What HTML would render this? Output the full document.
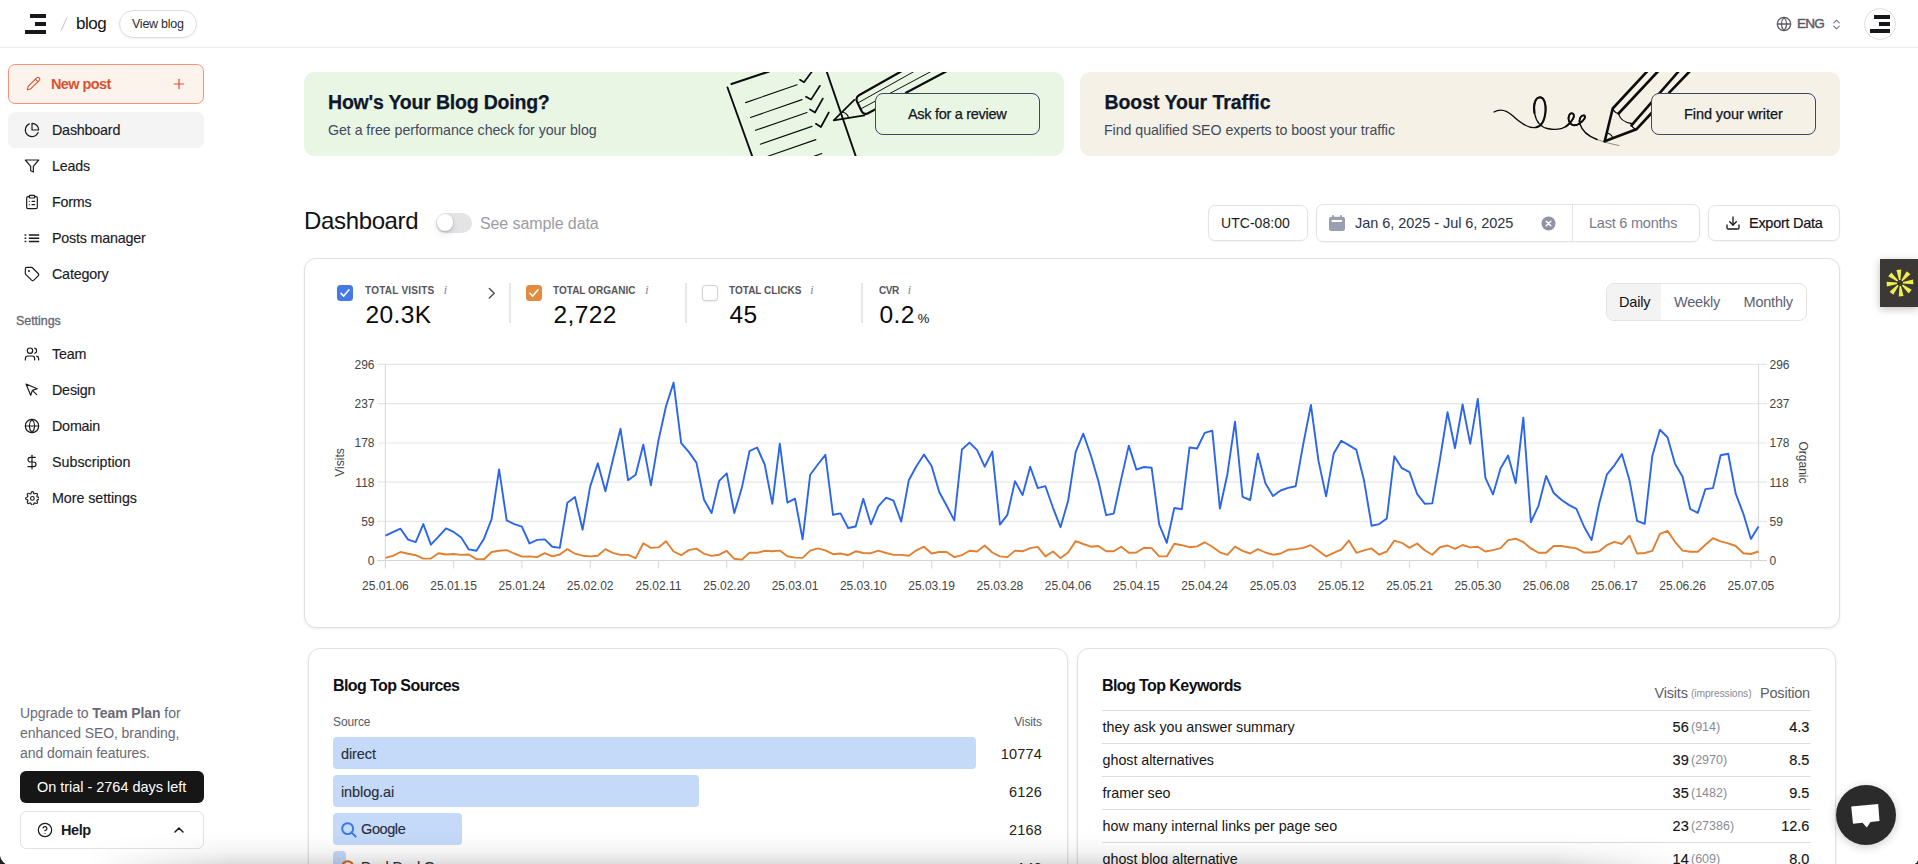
<!DOCTYPE html>
<html lang="en">
<head>
<meta charset="utf-8">
<title>blog – Dashboard</title>
<style>
*{box-sizing:border-box;margin:0;padding:0}
html,body{width:1918px;height:864px;overflow:hidden;background:#fff}
body{font-family:"Liberation Sans",sans-serif;color:#111;position:relative;-webkit-font-smoothing:antialiased}
.abs{position:absolute}
.t{position:absolute;white-space:nowrap;line-height:1}
svg{display:block}
.ic{position:absolute;fill:none;stroke:#1a1a1a;stroke-width:1.75;stroke-linecap:round;stroke-linejoin:round}
/* header */
#topbar{position:absolute;left:0;top:0;width:1918px;height:48px;border-bottom:1px solid #ececee;background:#fff}
.bar{position:absolute;background:#15171a}
#viewblog{position:absolute;left:119px;top:10px;width:78px;height:28px;border:1px solid #dcdce0;border-radius:14px;box-shadow:0 1px 2px rgba(0,0,0,.05)}
/* sidebar */
#newpost{position:absolute;left:8px;top:64px;width:196px;height:40px;border:1px solid #f2937c;border-radius:7px;background:#fcf4ec}
#navsel{position:absolute;left:8px;top:112px;width:196px;height:36px;border-radius:7px;background:#f4f4f4}
.nav{position:absolute;left:52px;font-size:14.3px;color:#1b1b1f;-webkit-text-stroke:.15px #1b1b1f;white-space:nowrap;line-height:18px;letter-spacing:-.2px}
#trial{position:absolute;left:20px;top:771px;width:184px;height:32px;border-radius:6px;background:#161616}
#help{position:absolute;left:20px;top:811px;width:184px;height:38px;border-radius:6px;border:1px solid #e2e2e4;background:#fff}
/* banners */
.banner{position:absolute;top:72px;height:84px;width:760px;border-radius:10px;overflow:hidden}
.bbtn{position:absolute;top:93px;height:42px;width:165px;border:1px solid #3b4763;border-radius:8px}
.bh{position:absolute;font-weight:700;font-size:19.5px;color:#0f1729;-webkit-text-stroke:.25px #0f1729;white-space:nowrap;line-height:24px;letter-spacing:-.2px}
.bs{position:absolute;font-size:14.2px;color:#414a5c;white-space:nowrap;line-height:18px;letter-spacing:-.045px}
/* toolbar */
.box{position:absolute;border:1px solid #e3e3e6;border-radius:7px;background:#fff;box-shadow:0 1px 2px rgba(0,0,0,.04)}
/* cards */
.card{position:absolute;border:1px solid #dfe0e6;background:#fff;box-shadow:0 1px 3px rgba(0,0,0,.08)}
.lbl{position:absolute;font-size:10px;font-weight:700;letter-spacing:.02px;color:#55555d;white-space:nowrap;line-height:12px}
.inf{position:absolute;font-family:"Liberation Serif",serif;font-style:italic;font-size:13.5px;color:#8b8b99;line-height:12px}
.num{position:absolute;font-size:24.5px;color:#0a0a0a;white-space:nowrap;line-height:26px;letter-spacing:.4px;margin-left:.5px}
.vdiv{position:absolute;top:283px;width:1.5px;height:40px;background:#e6e6e8}
.cb{position:absolute;top:285px;width:16px;height:16px;border-radius:3.5px}
.seg{position:absolute;font-size:14.5px;white-space:nowrap;line-height:18px;top:293px;letter-spacing:-.2px}
.srcbar{position:absolute;left:333px;height:32px;border-radius:4px;background:#c5d9f8}
.srct{position:absolute;font-size:14.5px;color:#2a2f3a;-webkit-text-stroke:.15px #2a2f3a;white-space:nowrap;line-height:18px;letter-spacing:-.1px}
.srcv{position:absolute;right:876px;font-size:14.5px;color:#222;white-space:nowrap;line-height:18px;letter-spacing:.2px}
.kw{position:absolute;left:1102.6px;font-size:14.3px;color:#151515;white-space:nowrap;line-height:18px;letter-spacing:-.04px}
.kv{position:absolute;right:229.3px;font-size:14.5px;color:#151515;-webkit-text-stroke:.15px #151515;white-space:nowrap;line-height:18px}
.ki{position:absolute;left:1691px;font-size:12.5px;color:#8a8a94;white-space:nowrap;line-height:18px}
.kp{position:absolute;right:108.6px;font-size:14.5px;color:#151515;-webkit-text-stroke:.15px #151515;white-space:nowrap;line-height:18px}
.kd{position:absolute;left:1102px;width:709px;height:1px;background:#dcdde3}
</style>
</head>
<body>

<!-- ================= TOP BAR ================= -->
<div id="topbar">
  <div class="bar" style="left:30px;top:14px;width:16px;height:4px"></div>
  <div class="bar" style="left:35px;top:22px;width:11px;height:4px"></div>
  <div class="bar" style="left:25px;top:30px;width:21px;height:4px"></div>
  <svg class="abs" style="left:58px;top:14px" width="12" height="20"><line x1="3.2" y1="16.5" x2="9" y2="3.5" stroke="#cfcfd4" stroke-width="1.2"/></svg>
  <div class="t" style="left:76px;top:15px;font-size:17px;color:#131316;letter-spacing:-.5px">blog</div>
  <div id="viewblog"></div>
  <div class="t" style="left:132px;top:18px;font-size:12.5px;color:#2b2b33;letter-spacing:-.25px">View blog</div>

  <svg class="ic" style="left:1776px;top:16px;stroke:#5b5b68;stroke-width:1.9" width="16" height="16" viewBox="0 0 24 24"><circle cx="12" cy="12" r="10"/><path d="M12 2a14.5 14.5 0 0 0 0 20 14.500 14.500 0 0 0 0-20"/><path d="M2 12h20"/></svg>
  <div class="t" style="left:1797px;top:17px;font-size:13.5px;color:#5b5b68;letter-spacing:-.75px;font-weight:500;-webkit-text-stroke:.45px #5b5b68">ENG</div>
  <svg class="ic" style="left:1829.5px;top:17.5px;stroke:#747480;stroke-width:2" width="13" height="13" viewBox="0 0 24 24"><path d="m7 15 5 5 5-5"/><path d="m7 9 5-5 5 5"/></svg>
  <div class="abs" style="left:1864px;top:8px;width:32px;height:32px;border-radius:16px;border:1px solid #dcdee6;background:#fff"></div>
  <div class="bar" style="left:1874px;top:15px;width:16px;height:4px"></div>
  <div class="bar" style="left:1879px;top:22px;width:11px;height:4px"></div>
  <div class="bar" style="left:1870px;top:29px;width:20px;height:4px"></div>
</div>

<!-- ================= SIDEBAR ================= -->
<div id="newpost"></div>
<svg class="ic" style="left:26px;top:76px;stroke:#d9512c;stroke-width:1.7" width="15" height="15" viewBox="0 0 24 24"><path d="M21.174 6.812a1 1 0 0 0-3.986-3.987L3.842 16.174a2 2 0 0 0-.5.830l-1.321 4.352a.5.5 0 0 0 .623.622l4.353-1.320a2 2 0 0 0 .830-.497z"/><path d="m15 5 4 4"/></svg>
<div class="t" style="left:51px;top:76px;font-size:14.5px;font-weight:700;color:#d9512c;letter-spacing:-.6px;line-height:16px">New post</div>
<svg class="ic" style="left:171px;top:76px;stroke:#d9512c;stroke-width:1.8" width="16" height="16" viewBox="0 0 24 24"><path d="M5 12h14"/><path d="M12 5v14"/></svg>

<div id="navsel"></div>
<svg class="ic" style="left:24px;top:122px" width="16" height="16" viewBox="0 0 24 24"><path d="M21.21 15.890A10 10 0 1 1 8 2.830"/><path d="M22 12A10 10 0 0 0 12 2v10z"/></svg>
<div class="nav" style="top:121px">Dashboard</div>
<svg class="ic" style="left:24px;top:158px" width="16" height="16" viewBox="0 0 24 24"><polygon points="22 3 2 3 10 12.460 10 19 14 21 14 12.460 22 3"/></svg>
<div class="nav" style="top:157px">Leads</div>
<svg class="ic" style="left:24px;top:194px" width="16" height="16" viewBox="0 0 24 24"><rect width="8" height="4" x="8" y="2" rx="1" ry="1"/><path d="M16 4h2a2 2 0 0 1 2 2v14a2 2 0 0 1-2 2H6a2 2 0 0 1-2-2V6a2 2 0 0 1 2-2h2"/><path d="M12 11h4"/><path d="M12 16h4"/><path d="M8 11h.01"/><path d="M8 16h.01"/></svg>
<div class="nav" style="top:193px">Forms</div>
<svg class="ic" style="left:24px;top:230px;stroke-width:1.500;stroke-linecap:butt" width="16" height="16" viewBox="24 230 16 16"><path d="M28.800 234.900H39.200M28.800 238.250H39.200M28.800 241.600H39.200"/><path d="M24.600 234.900h1.700M24.600 238.250h1.700M24.600 241.600h1.700"/></svg>
<div class="nav" style="top:229px">Posts manager</div>
<svg class="ic" style="left:24px;top:266px" width="16" height="16" viewBox="0 0 24 24"><path d="M12.586 2.586A2 2 0 0 0 11.172 2H4a2 2 0 0 0-2 2v7.172a2 2 0 0 0 .586 1.414l8.704 8.704a2.426 2.426 0 0 0 3.420 0l6.580-6.580a2.426 2.426 0 0 0 0-3.420z"/><circle cx="7.500" cy="7.500" r=".6" fill="#1a1a1a"/></svg>
<div class="nav" style="top:265px">Category</div>

<div class="t" style="left:16px;top:314.7px;font-size:12.5px;color:#666674;letter-spacing:-.05px;font-weight:500;-webkit-text-stroke:.3px #666674">Settings</div>

<svg class="ic" style="left:24px;top:346px" width="16" height="16" viewBox="0 0 24 24"><path d="M16 21v-2a4 4 0 0 0-4-4H6a4 4 0 0 0-4 4v2"/><circle cx="9" cy="7" r="4"/><path d="M22 21v-2a4 4 0 0 0-3-3.870"/><path d="M16 3.130a4 4 0 0 1 0 7.750"/></svg>
<div class="nav" style="top:345px">Team</div>
<svg class="ic" style="left:24px;top:382px" width="16" height="16" viewBox="0 0 24 24"><path d="m3 3 7.070 16.970 2.510-7.390 7.390-2.510L3 3z"/><path d="m13 13 6 6"/></svg>
<div class="nav" style="top:381px">Design</div>
<svg class="ic" style="left:24px;top:418px" width="16" height="16" viewBox="0 0 24 24"><circle cx="12" cy="12" r="10"/><path d="M12 2a14.500 14.500 0 0 0 0 20 14.500 14.500 0 0 0 0-20"/><path d="M2 12h20"/></svg>
<div class="nav" style="top:417px">Domain</div>
<svg class="ic" style="left:24px;top:454px" width="16" height="16" viewBox="0 0 24 24"><path d="M12 2v20"/><path d="M17 5H9.500a3.500 3.500 0 0 0 0 7h5a3.500 3.500 0 0 1 0 7H6"/></svg>
<div class="nav" style="top:453px;letter-spacing:-.02px">Subscription</div>
<svg class="ic" style="left:24.6px;top:490.6px;stroke-width:1.85" width="14.8" height="14.8" viewBox="0 0 24 24"><circle cx="12" cy="12" r="3"/><path d="M19.4 15a1.650 1.650 0 0 0 .330 1.820l.060.060a2 2 0 0 1 0 2.830 2 2 0 0 1-2.830 0l-.060-.060a1.650 1.650 0 0 0-1.820-.330 1.650 1.650 0 0 0-1 1.510V21a2 2 0 0 1-2 2 2 2 0 0 1-2-2v-.090A1.650 1.650 0 0 0 9 19.400a1.650 1.650 0 0 0-1.820.330l-.060.060a2 2 0 0 1-2.830 0 2 2 0 0 1 0-2.830l.060-.060a1.650 1.650 0 0 0 .330-1.820 1.650 1.650 0 0 0-1.510-1H3a2 2 0 0 1-2-2 2 2 0 0 1 2-2h.090A1.650 1.650 0 0 0 4.600 9a1.650 1.650 0 0 0-.330-1.820l-.060-.060a2 2 0 0 1 0-2.830 2 2 0 0 1 2.830 0l.060.060a1.650 1.650 0 0 0 1.820.330H9a1.650 1.650 0 0 0 1-1.510V3a2 2 0 0 1 2-2 2 2 0 0 1 2 2v.090a1.650 1.650 0 0 0 1 1.510 1.650 1.650 0 0 0 1.820-.330l.060-.060a2 2 0 0 1 2.830 0 2 2 0 0 1 0 2.830l-.060.060a1.650 1.650 0 0 0-.330 1.820V9a1.650 1.650 0 0 0 1.510 1H21a2 2 0 0 1 2 2 2 2 0 0 1-2 2h-.090a1.650 1.650 0 0 0-1.510 1z"/></svg>
<div class="nav" style="top:489px;letter-spacing:-.07px">More settings</div>

<div class="t" style="left:20px;top:703px;font-size:14px;color:#696974;line-height:20px;letter-spacing:-.08px;white-space:normal;width:190px">Upgrade to <b>Team Plan</b> for<br>enhanced SEO, branding,<br>and domain features.</div>
<div id="trial"></div>
<div class="t" style="left:37px;top:779px;font-size:14.5px;color:#fff;letter-spacing:-.03px;line-height:16px">On trial - 2764 days left</div>
<div id="help"></div>
<svg class="ic" style="left:37px;top:822px;stroke-width:1.8" width="16" height="16" viewBox="0 0 24 24"><circle cx="12" cy="12" r="10"/><path d="M9.090 9a3 3 0 0 1 5.830 1c0 2-3 3-3 3"/><path d="M12 17h.01"/></svg>
<div class="t" style="left:61px;top:822px;font-size:14.5px;font-weight:700;color:#1a1a1a;line-height:16px;letter-spacing:-.45px">Help</div>
<svg class="ic" style="left:171px;top:822px;stroke-width:2.2" width="16" height="16" viewBox="0 0 24 24"><path d="m18 15-6-6-6 6"/></svg>

<!-- ================= BANNERS ================= -->
<div class="banner" style="left:304px;background:#eaf6e4">
  <svg class="abs" style="left:0;top:0" width="760" height="84" viewBox="304 72 760 84" fill="none" stroke="#0d0d0d" stroke-linecap="round" stroke-linejoin="round">
    <!-- paper -->
    <path d="M731.500 84 L769 71.500" stroke-width="2.200"/>
    <path d="M727.500 87.500 L752.500 157" stroke-width="1.900"/>
    <path d="M826.500 71 L856 157" stroke-width="1.900"/>
    <g stroke-width="1.150">
      <path d="M745.600 102.600 L797.100 84.800"/>
      <path d="M750.500 117.500 L802 99.600"/>
      <path d="M755.500 130.300 L807 112.500"/>
      <path d="M760.400 144.200 L812 126.400"/>
      <path d="M768 156.200 L815.900 139.600"/>
      <path d="M814 156.400 L821.800 153.500"/>
    </g>
    <g stroke-width="1.750">
      <path d="M800 79.800 L804 82.200 L812 71.500"/>
      <path d="M806 96.700 L811 99.600 L819.900 85.800"/>
      <path d="M810 109.500 L815 112.500 L822.800 98.600"/>
      <path d="M815.900 123.800 L820.900 127 L828.800 112.500"/>
    </g>
    <!-- pencil -->
    <path d="M833.700 120.400 L854.300 99.800 M833.700 120.400 L864.500 115.300" stroke-width="1.700"/>
    <path d="M842.600 112 Q847.500 113.500 848.600 117.800" stroke-width="1.200"/>
    <path d="M901 71.500 L859 95.300 Q855.200 97.600 857 101.500 L861.800 111.500 Q863.800 115.300 868 113.200 L875 109.600" stroke-width="2.200"/>
    <path d="M906 92.700 L946 71.500" stroke-width="2.200"/>
    <path d="M858.500 102.600 L913.500 71.800" stroke-width="1"/>
    <path d="M861.500 108.500 L930.500 71.800" stroke-width="1"/>
  </svg>
</div>
<div class="bh" style="left:328px;top:90px">How's Your Blog Doing?</div>
<div class="bs" style="left:328px;top:121px">Get a free performance check for your blog</div>
<div class="bbtn" style="left:875px;background:#eaf6e4"></div>
<div class="t" style="left:908px;top:106px;font-size:14.5px;color:#10151f;letter-spacing:-.3px;line-height:16px;-webkit-text-stroke:.25px #10151f">Ask for a review</div>

<div class="banner" style="left:1080px;background:#f5f1e6">
  <svg class="abs" style="left:0;top:0" width="760" height="84" viewBox="1080 72 760 84" fill="none" stroke="#0d0d0d" stroke-linecap="round" stroke-linejoin="round">
    <!-- squiggle -->
    <path d="M1494 112 C1500 108.500 1506 109.500 1513 116 C1521 123.500 1528 128.500 1535.500 127.500 C1541 126.800 1544.500 121 1545.500 112 C1546.300 104 1544 97.500 1540 97.300 C1535.500 97.500 1533 104 1534.500 113 C1536 121.500 1541 127.500 1548.500 128.800 C1555.500 130 1562.500 129.500 1568 125 C1573 121 1575.500 115.500 1573 113.700 C1570 112 1567.500 116.500 1569 121 C1570.500 125.500 1575 126.500 1579.500 123.500 C1584 120.500 1586.500 116.500 1584 115.500 C1581 114.800 1578.500 119 1580 124 C1582 131 1589 136.500 1597 139.500" stroke-width="1.400"/>
    <path d="M1597 139.500 C1604 142 1611 144 1619 145.500" stroke-width=".6" opacity=".75"/>
    <path d="M1566 126.500 C1572 122 1575.500 115.500 1573 113.700 C1570 112 1567.500 116.500 1569 121 C1570.500 125.500 1575 126.500 1579.500 123.500 C1584 120.500 1586.500 116.500 1584 115.500 C1581 114.800 1578.500 119 1580 124" stroke-width="1.900"/>
    <path d="M1536.500 127.300 C1541 126.300 1544.500 121 1545.500 112 C1546.300 104 1544 97.500 1540 97.300 C1535.500 97.500 1533 104 1534.500 113" stroke-width="2.100"/>
    <!-- pencil -->
    <path d="M1604.700 141.200 L1612.700 108.500 L1647 71.500" stroke-width="2.600"/>
    <path d="M1604.700 141.200 L1636.400 129.300 L1652 112.500" stroke-width="2.600"/>
    <path d="M1669 92.800 L1689.500 71.500" stroke-width="2.600"/>
    <path d="M1618.600 113.500 L1657.800 71.500" stroke-width="2.600"/>
    <path d="M1631.500 125.400 L1678.500 71.500" stroke-width="2.600"/>
    <path d="M1612.700 108.500 Q1614.500 113 1618.600 113.500 Q1620 121.500 1631.500 123.500 Q1631.500 128 1636.400 129.300" stroke-width="1.300"/>
    <path d="M1607.200 133 Q1611.800 134 1612.700 138.200" stroke-width="1.200"/>
  </svg>
</div>
<div class="bh" style="left:1104.5px;top:90px;letter-spacing:-.07px">Boost Your Traffic</div>
<div class="bs" style="left:1104px;top:121px">Find qualified SEO experts to boost your traffic</div>
<div class="bbtn" style="left:1651px;background:#f5f1e6"></div>
<div class="t" style="left:1684px;top:106px;font-size:14.5px;color:#10151f;letter-spacing:-.08px;line-height:16px;-webkit-text-stroke:.25px #10151f">Find your writer</div>

<!-- ================= HEADING / TOOLBAR ================= -->
<div class="t" style="left:304px;top:208px;font-size:24px;color:#111114;letter-spacing:-.35px;line-height:26px">Dashboard</div>
<div class="abs" style="left:435.5px;top:213px;width:36px;height:19.5px;border-radius:10px;background:#e4e4e7"></div>
<div class="abs" style="left:436.8px;top:214.4px;width:16.600px;height:16.600px;border-radius:8.300px;background:#fff;box-shadow:0 1px 3px rgba(0,0,0,.22),0 5px 10px rgba(0,0,0,.07)"></div>
<div class="t" style="left:480px;top:215px;font-size:16px;color:#9b9ba6;letter-spacing:-.1px;line-height:18px">See sample data</div>

<div class="box" style="left:1208px;top:205px;width:100px;height:36px"></div>
<div class="t" style="left:1221px;top:215px;font-size:14px;color:#1b1b22;letter-spacing:.04px;line-height:16px">UTC-08:00</div>

<div class="box" style="left:1316px;top:204px;width:384px;height:38px"></div>
<div class="abs" style="left:1572px;top:205px;width:1px;height:36px;background:#e3e3e6"></div>
<svg class="abs" style="left:1328px;top:214px" width="18" height="18" viewBox="1328 214 18 18"><rect x="1329" y="216.800" width="16" height="14.200" rx="2.200" fill="#9aa0b1"/><rect x="1332.200" y="215.100" width="1.700" height="3" fill="#9aa0b1"/><rect x="1340.200" y="215.100" width="1.700" height="3" fill="#9aa0b1"/><rect x="1331.700" y="220" width="10.400" height="2.100" rx=".4" fill="#fff"/></svg>
<div class="t" style="left:1355px;top:215px;font-size:14.500px;color:#2a3249;letter-spacing:-.05px;line-height:16px">Jan 6, 2025 - Jul 6, 2025</div>
<svg class="abs" style="left:1541px;top:216px" width="15" height="15" viewBox="0 0 15 15"><circle cx="7.500" cy="7.500" r="7" fill="#8f93a3"/><path d="M5.200 5.200l4.600 4.600M9.800 5.200l-4.600 4.600" stroke="#fff" stroke-width="1.500" stroke-linecap="round"/></svg>
<div class="t" style="left:1589px;top:215px;font-size:14.500px;color:#777a8a;letter-spacing:-.22px;line-height:16px">Last 6 months</div>

<div class="box" style="left:1708px;top:205px;width:132px;height:36px"></div>
<svg class="ic" style="left:1725px;top:215px;stroke-width:2" width="16" height="16" viewBox="0 0 24 24"><path d="M21 15v4a2 2 0 0 1-2 2H5a2 2 0 0 1-2-2v-4"/><path d="m7 10 5 5 5-5"/><path d="M12 15V3"/></svg>
<div class="t" style="left:1749px;top:215px;font-size:14.500px;color:#15151a;letter-spacing:-.28px;line-height:16px;-webkit-text-stroke:.2px #15151a">Export Data</div>

<!-- ================= CHART CARD ================= -->
<div class="card" style="left:304px;top:258px;width:1536px;height:370px;border-radius:12px"></div>
<div class="cb" style="left:337px;background:#4479e8"></div>
<svg class="abs" style="left:337px;top:285px" width="16" height="16" viewBox="0 0 16 16" fill="none" stroke="#fff" stroke-width="1.600" stroke-linecap="round" stroke-linejoin="round"><path d="M4 8.400l2.700 2.700L12 4.800"/></svg>
<div class="lbl" style="left:365px;top:285px;letter-spacing:.23px">TOTAL VISITS</div><div class="inf" style="left:443.5px;top:284px">i</div>
<div class="num" style="left:365px;top:302px">20.3K</div>
<svg class="ic" style="left:487px;top:286px;stroke:#4a4a4a;stroke-width:1.350" width="10" height="14" viewBox="0 0 10 14"><path d="M2.300 2.400l5 4.800-5 4.800"/></svg>
<div class="vdiv" style="left:509px"></div>
<div class="cb" style="left:526px;background:#e28a40"></div>
<svg class="abs" style="left:526px;top:285px" width="16" height="16" viewBox="0 0 16 16" fill="none" stroke="#fff" stroke-width="1.600" stroke-linecap="round" stroke-linejoin="round"><path d="M4 8.400l2.700 2.700L12 4.800"/></svg>
<div class="lbl" style="left:553px;top:285px">TOTAL ORGANIC</div><div class="inf" style="left:645px;top:284px">i</div>
<div class="num" style="left:553px;top:302px">2,722</div>
<div class="vdiv" style="left:685px"></div>
<div class="cb" style="left:702px;background:#fff;border:1px solid #cfcfd4;box-shadow:0 1px 2px rgba(0,0,0,.08)"></div>
<div class="lbl" style="left:729px;top:285px">TOTAL CLICKS</div><div class="inf" style="left:810px;top:284px">i</div>
<div class="num" style="left:729px;top:302px">45</div>
<div class="vdiv" style="left:861px"></div>
<div class="lbl" style="left:879px;top:285px;letter-spacing:-.5px">CVR</div><div class="inf" style="left:907.5px;top:284px">i</div>
<div class="num" style="left:879px;top:302px">0.2<span style="font-size:13px;margin-left:3px">%</span></div>
<div class="box" style="left:1606px;top:283px;width:201px;height:38px;border-radius:8px;box-shadow:none"></div>
<div class="abs" style="left:1607px;top:284px;width:54px;height:36px;border-radius:7px 0 0 7px;background:#f3f3f4"></div>
<div class="seg" style="left:1619px;color:#111">Daily</div>
<div class="seg" style="left:1674px;color:#5a6175">Weekly</div>
<div class="seg" style="left:1743.5px;color:#5a6175">Monthly</div>
<svg class="abs" style="left:304px;top:340px" width="1536" height="270" viewBox="304 340 1536 270" font-family="'Liberation Sans', sans-serif" font-size="12">
<path d="M377.4 364.4H1767" stroke="#e7e7e7" stroke-width="1.200"/>
<path d="M377.4 403.7H1767" stroke="#e7e7e7" stroke-width="1.200"/>
<path d="M377.4 443.0H1767" stroke="#e7e7e7" stroke-width="1.200"/>
<path d="M377.4 482.2H1767" stroke="#e7e7e7" stroke-width="1.200"/>
<path d="M377.4 521.3H1767" stroke="#e7e7e7" stroke-width="1.200"/>
<path d="M377.4 560.5H1767" stroke="#e7e7e7" stroke-width="1.200"/>
<path d="M385.400 364.400V560.500M1758.500 364.400V560.500" stroke="#dcdcdc" stroke-width="1.200"/>
<path d="M377.400 560.500H1767" stroke="#d4d4d4" stroke-width="1.200"/>
<path d="M385.4 560.5v8M453.6 560.5v8M521.9 560.5v8M590.2 560.5v8M658.5 560.5v8M726.7 560.5v8M795.0 560.5v8M863.3 560.5v8M931.6 560.5v8M999.9 560.5v8M1068.1 560.5v8M1136.4 560.5v8M1204.7 560.5v8M1273.0 560.5v8M1341.2 560.5v8M1409.5 560.5v8M1477.8 560.5v8M1546.1 560.5v8M1614.4 560.5v8M1682.6 560.5v8M1750.9 560.5v8" stroke="#dcdcdc" stroke-width="1.200"/>
<text x="374.500" y="368.7" text-anchor="end" fill="#444">296</text>
<text x="1769.500" y="368.7" fill="#444">296</text>
<text x="374.500" y="408.0" text-anchor="end" fill="#444">237</text>
<text x="1769.500" y="408.0" fill="#444">237</text>
<text x="374.500" y="447.3" text-anchor="end" fill="#444">178</text>
<text x="1769.500" y="447.3" fill="#444">178</text>
<text x="374.500" y="486.5" text-anchor="end" fill="#444">118</text>
<text x="1769.500" y="486.5" fill="#444">118</text>
<text x="374.500" y="525.6" text-anchor="end" fill="#444">59</text>
<text x="1769.500" y="525.6" fill="#444">59</text>
<text x="374.500" y="564.8" text-anchor="end" fill="#444">0</text>
<text x="1769.500" y="564.8" fill="#444">0</text>
<text x="385.4" y="590.300" text-anchor="middle" fill="#444">25.01.06</text>
<text x="453.6" y="590.300" text-anchor="middle" fill="#444">25.01.15</text>
<text x="521.9" y="590.300" text-anchor="middle" fill="#444">25.01.24</text>
<text x="590.2" y="590.300" text-anchor="middle" fill="#444">25.02.02</text>
<text x="658.5" y="590.300" text-anchor="middle" fill="#444">25.02.11</text>
<text x="726.7" y="590.300" text-anchor="middle" fill="#444">25.02.20</text>
<text x="795.0" y="590.300" text-anchor="middle" fill="#444">25.03.01</text>
<text x="863.3" y="590.300" text-anchor="middle" fill="#444">25.03.10</text>
<text x="931.6" y="590.300" text-anchor="middle" fill="#444">25.03.19</text>
<text x="999.9" y="590.300" text-anchor="middle" fill="#444">25.03.28</text>
<text x="1068.1" y="590.300" text-anchor="middle" fill="#444">25.04.06</text>
<text x="1136.4" y="590.300" text-anchor="middle" fill="#444">25.04.15</text>
<text x="1204.7" y="590.300" text-anchor="middle" fill="#444">25.04.24</text>
<text x="1273.0" y="590.300" text-anchor="middle" fill="#444">25.05.03</text>
<text x="1341.2" y="590.300" text-anchor="middle" fill="#444">25.05.12</text>
<text x="1409.5" y="590.300" text-anchor="middle" fill="#444">25.05.21</text>
<text x="1477.8" y="590.300" text-anchor="middle" fill="#444">25.05.30</text>
<text x="1546.1" y="590.300" text-anchor="middle" fill="#444">25.06.08</text>
<text x="1614.4" y="590.300" text-anchor="middle" fill="#444">25.06.17</text>
<text x="1682.6" y="590.300" text-anchor="middle" fill="#444">25.06.26</text>
<text x="1750.9" y="590.300" text-anchor="middle" fill="#444">25.07.05</text>
<text transform="translate(343.800 462.500) rotate(-90)" text-anchor="middle" fill="#444">Visits</text>
<text transform="translate(1799 462.500) rotate(90)" text-anchor="middle" fill="#444">Organic</text>
<polyline fill="none" stroke="#e08030" stroke-width="1.900" stroke-linejoin="round" points="385.4,557.9 392.9,555.9 400.5,552.0 408.1,553.7 415.7,555.2 423.3,558.6 430.9,558.6 438.5,553.2 446.0,554.5 453.6,554.0 461.2,554.9 468.8,554.5 476.4,559.1 484.0,559.3 491.6,552.0 499.1,550.8 506.7,550.1 514.3,553.5 521.9,556.6 529.5,556.4 537.1,557.1 544.7,553.2 552.3,556.4 559.8,554.5 567.4,549.1 575.0,553.7 582.6,555.7 590.2,556.4 597.8,555.7 605.4,549.1 612.9,552.8 620.5,554.9 628.1,554.9 635.7,558.1 643.3,543.3 650.9,547.9 658.5,547.4 666.0,541.3 673.6,551.5 681.2,555.2 688.8,550.1 696.4,548.6 704.0,553.7 711.6,555.9 719.2,554.7 726.7,550.8 734.3,558.8 741.9,559.6 749.5,552.8 757.1,552.8 764.7,550.8 772.3,551.3 779.8,550.6 787.4,556.2 795.0,557.6 802.6,557.9 810.2,550.6 817.8,548.4 825.4,550.3 833.0,554.2 840.5,553.5 848.1,555.2 855.7,551.3 863.3,553.0 870.9,553.2 878.5,550.6 886.1,553.0 893.6,554.9 901.2,554.9 908.8,555.7 916.4,550.3 924.0,546.7 931.6,553.5 939.2,552.0 946.7,552.0 954.3,557.1 961.9,555.2 969.5,550.8 977.1,551.5 984.7,545.5 992.3,552.5 999.9,556.4 1007.4,557.1 1015.0,550.6 1022.6,551.3 1030.2,548.1 1037.8,546.9 1045.4,556.4 1053.0,551.5 1060.5,558.1 1068.1,552.5 1075.7,541.1 1083.3,544.0 1090.9,546.7 1098.5,546.0 1106.1,551.3 1113.7,551.3 1121.2,546.7 1128.8,552.8 1136.4,552.5 1144.0,547.7 1151.6,548.1 1159.2,556.4 1166.8,556.4 1174.3,543.8 1181.9,545.2 1189.5,547.2 1197.1,546.4 1204.7,542.3 1212.3,546.7 1219.9,552.3 1227.4,554.9 1235.0,546.7 1242.6,550.8 1250.2,553.5 1257.8,549.1 1265.4,552.5 1273.0,554.7 1280.6,553.5 1288.1,549.8 1295.7,549.1 1303.3,547.9 1310.9,545.2 1318.5,550.8 1326.1,556.4 1333.7,552.8 1341.2,549.6 1348.8,540.6 1356.4,552.8 1364.0,550.3 1371.6,548.4 1379.2,554.7 1386.8,551.5 1394.3,540.6 1401.9,542.8 1409.5,547.9 1417.1,543.5 1424.7,550.3 1432.3,554.7 1439.9,547.2 1447.5,545.5 1455.0,548.9 1462.6,545.0 1470.2,547.4 1477.8,546.7 1485.4,551.5 1493.0,550.1 1500.6,548.1 1508.1,540.1 1515.7,538.7 1523.3,542.1 1530.9,548.4 1538.5,552.8 1546.1,552.8 1553.7,546.0 1561.3,546.0 1568.8,547.2 1576.4,548.4 1584.0,552.5 1591.6,552.5 1599.2,551.3 1606.8,545.2 1614.4,541.8 1621.9,544.0 1629.5,535.7 1637.1,553.5 1644.7,553.0 1652.3,550.8 1659.9,533.8 1667.5,530.9 1675.0,541.8 1682.6,550.6 1690.2,551.8 1697.8,551.8 1705.4,544.7 1713.0,538.2 1720.6,541.3 1728.2,543.3 1735.7,546.0 1743.3,553.2 1750.9,554.0 1758.5,551.5"/>
<polyline fill="none" stroke="#2b66ea" stroke-width="1.900" stroke-linejoin="round" points="385.4,535.7 392.9,532.1 400.5,528.7 408.1,539.6 415.7,542.1 423.3,524.1 430.9,544.7 438.5,536.7 446.0,528.4 453.6,531.9 461.2,537.4 468.8,549.4 476.4,550.8 484.0,538.7 491.6,519.2 499.1,469.4 506.7,520.4 514.3,524.1 521.9,526.7 529.5,543.5 537.1,539.9 544.7,539.4 552.3,546.7 559.8,547.9 567.4,502.7 575.0,497.1 582.6,529.7 590.2,486.4 597.8,463.3 605.4,491.3 612.9,459.7 620.5,428.8 628.1,480.3 635.7,474.7 643.3,444.6 650.9,485.4 658.5,440.2 666.0,406.2 673.6,382.6 681.2,443.1 688.8,451.9 696.4,462.6 704.0,499.8 711.6,513.1 719.2,480.8 726.7,473.3 734.3,513.1 741.9,487.6 749.5,451.2 757.1,447.5 764.7,464.5 772.3,503.9 779.8,443.6 787.4,502.7 795.0,498.6 802.6,539.4 810.2,474.7 817.8,464.5 825.4,454.8 833.0,514.8 840.5,513.4 848.1,528.0 855.7,526.5 863.3,498.8 870.9,524.3 878.5,506.1 886.1,497.6 893.6,500.7 901.2,521.6 908.8,480.3 916.4,466.2 924.0,454.6 931.6,466.0 939.2,492.0 946.7,505.8 954.3,520.4 961.9,449.5 969.5,442.6 977.1,450.2 984.7,466.7 992.3,451.6 999.9,524.6 1007.4,514.8 1015.0,481.1 1022.6,495.1 1030.2,466.7 1037.8,488.1 1045.4,486.2 1053.0,507.8 1060.5,527.2 1068.1,501.0 1075.7,451.9 1083.3,433.7 1090.9,455.5 1098.5,481.5 1106.1,515.1 1113.7,513.6 1121.2,479.1 1128.8,445.6 1136.4,469.6 1144.0,467.0 1151.6,467.7 1159.2,524.3 1166.8,542.8 1174.3,508.0 1181.9,509.2 1189.5,447.5 1197.1,448.5 1204.7,432.9 1212.3,430.7 1219.9,508.5 1227.4,474.2 1235.0,421.7 1242.6,496.8 1250.2,500.0 1257.8,453.6 1265.4,483.2 1273.0,496.1 1280.6,490.5 1288.1,487.9 1295.7,486.2 1303.3,443.9 1310.9,405.0 1318.5,460.9 1326.1,496.4 1333.7,453.6 1341.2,440.7 1348.8,445.1 1356.4,449.9 1364.0,480.3 1371.6,525.8 1379.2,524.1 1386.8,518.5 1394.3,456.3 1401.9,468.2 1409.5,472.1 1417.1,493.9 1424.7,503.7 1432.3,503.4 1439.9,459.7 1447.5,412.3 1455.0,448.2 1462.6,404.5 1470.2,443.9 1477.8,398.9 1485.4,477.9 1493.0,494.4 1500.6,468.2 1508.1,455.5 1515.7,483.2 1523.3,417.6 1530.9,522.1 1538.5,505.8 1546.1,475.9 1553.7,493.0 1561.3,499.8 1568.8,504.9 1576.4,508.8 1584.0,526.5 1591.6,540.1 1599.2,503.4 1606.8,474.7 1614.4,465.3 1621.9,454.1 1629.5,480.3 1637.1,520.9 1644.7,523.8 1652.3,456.0 1659.9,429.8 1667.5,437.3 1675.0,463.8 1682.6,476.7 1690.2,509.0 1697.8,512.9 1705.4,489.1 1713.0,488.1 1720.6,455.3 1728.2,453.8 1735.7,493.7 1743.3,513.6 1750.9,538.9 1758.5,526.5"/>
</svg>

<!-- ================= BOTTOM PANELS ================= -->
<div class="card" style="left:308px;top:648px;width:760px;height:260px;border-radius:12px"></div>
<div class="t" style="left:333px;top:676.5px;font-size:16px;font-weight:700;color:#0f0f12;letter-spacing:-.58px;line-height:18px">Blog Top Sources</div>
<div class="t" style="left:333px;top:715px;font-size:12px;color:#555a66;line-height:14px;letter-spacing:-.1px">Source</div>
<div class="t" style="right:876px;top:715px;font-size:12px;color:#555a66;line-height:14px;letter-spacing:-.1px">Visits</div>
<div class="srcbar" style="top:737px;width:643px"></div>
<div class="srct" style="left:341px;top:744.5px">direct</div>
<div class="srcv" style="top:744.5px">10774</div>
<div class="srcbar" style="top:775px;width:366px"></div>
<div class="srct" style="left:341px;top:782.5px">inblog.ai</div>
<div class="srcv" style="top:782.5px">6126</div>
<div class="srcbar" style="top:813px;width:129px"></div>
<svg class="ic" style="left:340px;top:820.5px;stroke:#3b78e7;stroke-width:2.700" width="17.5" height="17.5" viewBox="0 0 24 24"><circle cx="10.500" cy="10.500" r="7.500"/><path d="m21.500 21.500-5.700-5.700"/></svg>
<div class="srct" style="left:361px;top:820px;letter-spacing:-.4px">Google</div>
<div class="srcv" style="top:820.5px">2168</div>
<div class="srcbar" style="top:851px;width:13px"></div>
<svg class="ic" style="left:340px;top:858.5px;stroke:#e0601c;stroke-width:2.700" width="17.5" height="17.5" viewBox="0 0 24 24"><circle cx="10.500" cy="10.500" r="7.500"/><path d="m21.500 21.500-5.700-5.700"/></svg>
<div class="srct" style="left:361px;top:858px;letter-spacing:-.4px">DuckDuckGo</div>
<div class="srcv" style="top:858.5px">148</div>

<div class="card" style="left:1077px;top:648px;width:759px;height:260px;border-radius:12px"></div>
<div class="t" style="left:1102px;top:676.5px;font-size:16px;font-weight:700;color:#0f0f12;letter-spacing:-.58px;line-height:18px">Blog Top Keywords</div>
<div class="t" style="left:1654.500px;top:685px;font-size:14.500px;color:#5c5d68;line-height:16px;letter-spacing:-.2px">Visits</div>
<div class="t" style="left:1691px;top:688px;font-size:10.300px;color:#8a8c96;line-height:12px;letter-spacing:-.1px">(impressions)</div>
<div class="t" style="right:108px;top:685px;font-size:14.500px;color:#5c5d68;line-height:16px;letter-spacing:-.2px">Position</div>
<div class="kd" style="top:710px"></div>
<div class="kw" style="top:718px">they ask you answer summary</div><div class="kv" style="top:718px">56</div><div class="ki" style="top:718px">(914)</div><div class="kp" style="top:718px">4.3</div>
<div class="kd" style="top:743px"></div>
<div class="kw" style="top:751px">ghost alternatives</div><div class="kv" style="top:751px">39</div><div class="ki" style="top:751px">(2970)</div><div class="kp" style="top:751px">8.5</div>
<div class="kd" style="top:776px"></div>
<div class="kw" style="top:784px">framer seo</div><div class="kv" style="top:784px">35</div><div class="ki" style="top:784px">(1482)</div><div class="kp" style="top:784px">9.5</div>
<div class="kd" style="top:809px"></div>
<div class="kw" style="top:817px">how many internal links per page seo</div><div class="kv" style="top:817px">23</div><div class="ki" style="top:817px">(27386)</div><div class="kp" style="top:817px">12.6</div>
<div class="kd" style="top:842px"></div>
<div class="kw" style="top:850px">ghost blog alternative</div><div class="kv" style="top:850px">14</div><div class="ki" style="top:850px">(609)</div><div class="kp" style="top:850px">8.0</div>

<!-- ================= FLOATING ================= -->
<div class="abs" style="left:0;top:832px;width:1918px;height:32px;background:linear-gradient(to bottom,rgba(0,0,0,0) 0%,rgba(0,0,0,.015) 30%,rgba(0,0,0,.045) 60%,rgba(0,0,0,.085) 82%,rgba(0,0,0,.135) 100%);-webkit-mask-image:linear-gradient(to right,transparent 4.500%,#000 12%,#000 81%,transparent 88%);mask-image:linear-gradient(to right,transparent 4.500%,#000 12%,#000 81%,transparent 88%);pointer-events:none"></div>
<div class="abs" style="left:1880px;top:259px;width:38px;height:48px;background:#3b3835;box-shadow:0 2px 8px rgba(0,0,0,.25)"></div>
<svg class="abs" style="left:1884px;top:267px" width="32" height="32" viewBox="-16 -16 32 32"><g fill="#f0ee4e"><path d="M-.7 -3 L-2.4 -13.300 L2.400 -13.300 L.7 -3 Z" transform="rotate(-5.0)"/><path d="M-.7 -3 L-2.4 -13.300 L2.400 -13.300 L.7 -3 Z" transform="rotate(40.0)"/><path d="M-.7 -3 L-2.4 -13.300 L2.400 -13.300 L.7 -3 Z" transform="rotate(85.0)"/><path d="M-.7 -3 L-2.4 -13.300 L2.400 -13.300 L.7 -3 Z" transform="rotate(130.0)"/><path d="M-.7 -3 L-2.4 -13.300 L2.400 -13.300 L.7 -3 Z" transform="rotate(175.0)"/><path d="M-.7 -3 L-2.4 -13.300 L2.400 -13.300 L.7 -3 Z" transform="rotate(220.0)"/><path d="M-.7 -3 L-2.4 -13.300 L2.400 -13.300 L.7 -3 Z" transform="rotate(265.0)"/><path d="M-.7 -3 L-2.4 -13.300 L2.400 -13.300 L.7 -3 Z" transform="rotate(310.0)"/></g></svg>
<div class="abs" style="left:1836px;top:785px;width:60px;height:60px;border-radius:30px;background:#2b2b2b;box-shadow:0 2px 10px rgba(0,0,0,.2)"></div>
<svg class="abs" style="left:1836px;top:785px" width="60" height="60" viewBox="0 0 60 60"><path d="M15.200 21.500 L42.200 19 L43.500 36 L34.500 37 L30.800 42.500 L26.500 37.800 L17 38.800 Z" fill="#fff"/></svg>
<!-- window corners -->
<svg class="abs" style="left:0;top:852px" width="12" height="12" viewBox="0 0 12 12"><path d="M0 3.500Q.8 9 5.600 12H0z" fill="#1d2024"/></svg>
<svg class="abs" style="left:1906px;top:852px" width="12" height="12" viewBox="0 0 12 12"><path d="M12 8.500Q11.300 10.600 8.800 12H12z" fill="#1d2024"/></svg>

</body>
</html>
